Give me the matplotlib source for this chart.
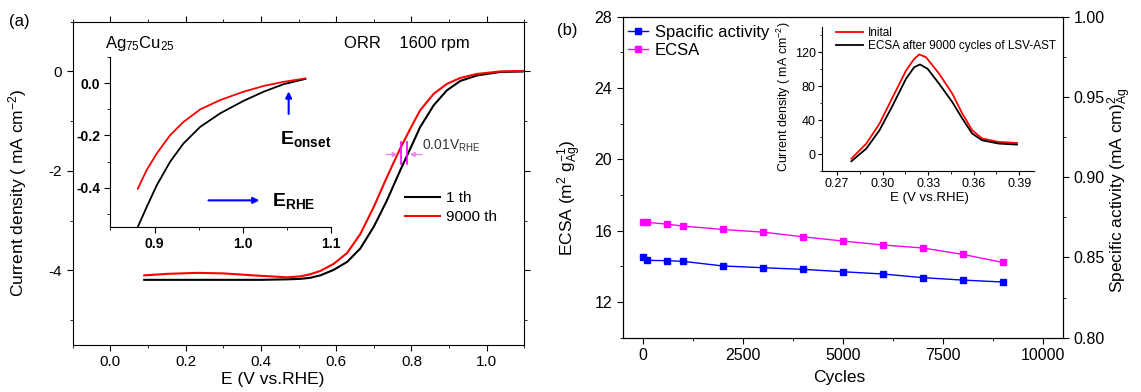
import matplotlib
matplotlib.use('Agg')
import matplotlib.pyplot as plt
from matplotlib.ticker import MultipleLocator

plt.rcParams['font.family'] = ['Liberation Sans', 'DejaVu Sans']
plt.rcParams['mathtext.fontset'] = 'custom'
plt.rcParams['mathtext.rm'] = 'Liberation Sans'
plt.rcParams['mathtext.it'] = 'Liberation Sans:italic'
plt.rcParams['mathtext.bf'] = 'Liberation Sans:bold'
plt.rcParams['mathtext.default'] = 'regular'

# ---- panel (a): LSV curves, 1st and 9000th cycle ----
e_1th = [0.09, 0.2, 0.3, 0.4, 0.47, 0.505, 0.53, 0.558, 0.593, 0.629, 0.664, 0.700, 0.735,
         0.770, 0.797, 0.823, 0.859, 0.894, 0.930, 0.974, 1.036, 1.1]
j_1th = [-4.19, -4.19, -4.19, -4.19, -4.18, -4.17, -4.15, -4.10, -3.99, -3.83, -3.56, -3.12, -2.59,
         -1.99, -1.55, -1.12, -0.68, -0.38, -0.19, -0.08, -0.01, 0.0]
e_9000 = [0.09, 0.15, 0.23, 0.3, 0.38, 0.47, 0.505, 0.53, 0.558, 0.593, 0.629, 0.664, 0.700,
          0.735, 0.770, 0.797, 0.823, 0.859, 0.894, 0.930, 0.974, 1.036, 1.1]
j_9000 = [-4.10, -4.07, -4.05, -4.06, -4.10, -4.14, -4.12, -4.08, -4.01, -3.87, -3.65, -3.27, -2.72,
          -2.12, -1.55, -1.15, -0.78, -0.45, -0.25, -0.13, -0.05, 0.0, 0.01]

# inset (a): onset region zoom
e_in_1th = [0.881, 0.891, 0.9025, 0.9176, 0.9327, 0.9517, 0.9744, 1.0009, 1.0236, 1.0464, 1.071]
j_in_1th = [-0.551, -0.475, -0.391, -0.301, -0.231, -0.167, -0.115, -0.067, -0.032, -0.003, 0.017]
e_in_9000 = [0.881, 0.891, 0.9025, 0.9176, 0.9327, 0.9517, 0.9744, 1.0009, 1.0236, 1.0464, 1.071]
j_in_9000 = [-0.404, -0.333, -0.269, -0.199, -0.148, -0.100, -0.064, -0.032, -0.010, 0.006, 0.019]

# ---- panel (b): stability ----
cycles = [0, 100, 600, 1000, 2000, 3000, 4000, 5000, 6000, 7000, 8000, 9000]
ecsa = [16.47, 16.47, 16.37, 16.26, 16.07, 15.92, 15.66, 15.42, 15.20, 15.03, 14.67, 14.22]
spec_act = [0.8503, 0.8482, 0.8480, 0.8476, 0.8447, 0.8436, 0.8426, 0.8411, 0.8397, 0.8374, 0.8359, 0.8347]

# inset (b): CV stripping peaks
e_cv_init = [0.2794, 0.2892, 0.2979, 0.3066, 0.3154, 0.3208, 0.3241, 0.3285, 0.3372, 0.3459,
             0.3525, 0.359, 0.3656, 0.3765, 0.3885]
j_initial = [-5.1, 12.5, 36.0, 67.2, 98.5, 112.2, 117.3, 114.2, 94.7, 71.2,
             47.7, 28.2, 18.4, 14.5, 13.3]
e_cv_after = [0.2794, 0.2892, 0.2979, 0.3066, 0.3154, 0.3208, 0.3246, 0.3296, 0.3372, 0.3459,
              0.3525, 0.359, 0.3656, 0.3765, 0.3885]
j_after = [-8.2, 6.7, 28.2, 57.5, 88.8, 102.4, 105.6, 100.5, 82.9, 61.3,
           41.9, 24.3, 16.4, 12.6, 11.4]

fig = plt.figure(figsize=(11.41, 3.92), dpi=100)

# ================= (a) =================
ax1 = fig.add_axes([0.0637, 0.1199, 0.3959, 0.8247])
ax1.plot(e_1th, j_1th, color='black', lw=1.5, label='1 th')
ax1.plot(e_9000, j_9000, color='red', lw=1.5, label='9000 th')
ax1.set_xlim(-0.1, 1.1)
ax1.set_ylim(-5.5, 1.0)
ax1.xaxis.set_major_locator(MultipleLocator(0.2))
ax1.xaxis.set_minor_locator(MultipleLocator(0.1))
ax1.yaxis.set_minor_locator(MultipleLocator(1))
ax1.set_yticks([0, -2, -4])
ax1.set_yticklabels(['0', '-2', '-4'])
ax1.tick_params(which='both', direction='out', top=True, right=True, labelsize=11)
ax1.tick_params(which='major', length=4)
ax1.tick_params(which='minor', length=2.5)
ax1.set_xlabel('E (V vs.RHE)', fontsize=12.5)
ax1.xaxis.set_label_coords(0.443, -0.085)
ax1.set_ylabel('Current density ( mA cm$^{-2}$)', fontsize=12.5)
ax1.yaxis.set_label_coords(-0.097, 0.47)

ax1.legend(loc='upper left', bbox_to_anchor=(0.735, 0.475), frameon=False, fontsize=11,
           borderpad=0, borderaxespad=0, handlelength=2.3, handletextpad=0.4, labelspacing=0.3)

ax1.text(-0.015, 0.56, 'Ag$_{75}$Cu$_{25}$', fontsize=12, va='center', ha='left')
ax1.text(0.62, 0.57, 'ORR    1600 rpm', fontsize=12, va='center', ha='left')

# 0.01 V shift marker
ax1.plot([0.771, 0.771], [-1.42, -1.87], color='magenta', lw=1.2)
ax1.plot([0.788, 0.788], [-1.42, -1.87], color='magenta', lw=1.2)
ax1.annotate('', xy=(0.771, -1.67), xytext=(0.726, -1.67),
             arrowprops=dict(arrowstyle='-|>', color='violet', lw=1, mutation_scale=7))
ax1.annotate('', xy=(0.788, -1.67), xytext=(0.835, -1.67),
             arrowprops=dict(arrowstyle='-|>', color='violet', lw=1, mutation_scale=7))
ax1.text(0.828, -1.5, '0.01V$_{RHE}$', fontsize=10, color='#333333', va='center', ha='left')

# inset (a)
ax1i = fig.add_axes([0.0968, 0.4217, 0.1933, 0.4321])
ax1i.plot(e_in_1th, j_in_1th, color='black', lw=1.3)
ax1i.plot(e_in_9000, j_in_9000, color='red', lw=1.3)
ax1i.set_xlim(0.85, 1.1)
ax1i.set_ylim(-0.55, 0.1)
ax1i.spines['top'].set_visible(False)
ax1i.spines['right'].set_visible(False)
ax1i.patch.set_alpha(0)
ax1i.xaxis.set_minor_locator(MultipleLocator(0.05))
ax1i.yaxis.set_minor_locator(MultipleLocator(0.1))
ax1i.set_xticks([0.9, 1.0, 1.1])
ax1i.set_yticks([0.0, -0.2, -0.4])
ax1i.set_xticklabels(['0.9', '1.0', '1.1'], fontweight='bold')
ax1i.set_yticklabels(['0.0', '-0.2', '-0.4'], fontweight='bold')
ax1i.tick_params(which='both', direction='out', labelsize=10)
ax1i.tick_params(which='major', length=4)
ax1i.tick_params(which='minor', length=2.5)
ax1i.annotate('', xy=(1.052, -0.02), xytext=(1.052, -0.128),
              arrowprops=dict(arrowstyle='-|>', color='blue', lw=1.5, mutation_scale=9))
ax1i.text(1.042, -0.215, r'$\mathbf{E_{onset}}$', fontsize=14, va='center', ha='left')
ax1i.annotate('', xy=(1.022, -0.449), xytext=(0.958, -0.449),
              arrowprops=dict(arrowstyle='-|>', color='blue', lw=1.5, mutation_scale=9))
ax1i.text(1.033, -0.452, r'$\mathbf{E_{RHE}}$', fontsize=14, va='center', ha='left')

# ================= (b) =================
ax2 = fig.add_axes([0.5458, 0.1385, 0.3858, 0.8189])
ax2r = ax2.twinx()
l_ecsa, = ax2.plot(cycles, ecsa, color='#ff00ff', marker='s', ms=5, lw=1, label='ECSA')
l_sa, = ax2r.plot(cycles, spec_act, color='#0000ff', marker='s', ms=5, lw=1, label='Spacific activity')
ax2.set_xlim(-500, 10500)
ax2.set_ylim(10, 28)
ax2r.set_ylim(0.80, 1.00)
ax2.set_xticks([0, 2500, 5000, 7500, 10000])
ax2.xaxis.set_minor_locator(MultipleLocator(1250))
ax2.set_yticks([12, 16, 20, 24, 28])
ax2.yaxis.set_minor_locator(MultipleLocator(2))
ax2r.set_yticks([0.80, 0.85, 0.90, 0.95, 1.00])
ax2r.set_yticklabels(['0.80', '0.85', '0.90', '0.95', '1.00'])
ax2r.yaxis.set_minor_locator(MultipleLocator(0.025))
for a in (ax2, ax2r):
    a.tick_params(which='both', direction='out', labelsize=11.5)
    a.tick_params(which='major', length=4)
    a.tick_params(which='minor', length=2.5)
ax2.set_xlabel('Cycles', fontsize=12.5)
ax2.xaxis.set_label_coords(0.4925, -0.1)
ax2.set_ylabel('ECSA (m$^{2}$ g$^{-1}_{Ag}$)', fontsize=12.5)
ax2.yaxis.set_label_coords(-0.088, 0.435)
ax2r.set_ylabel('Specific activity (mA cm)$^{2}_{Ag}$', fontsize=12.5)
ax2r.yaxis.set_label_coords(1.096, 0.46)
ax2.legend([l_sa, l_ecsa], ['Spacific activity', 'ECSA'], loc='upper left',
           bbox_to_anchor=(0.012, 0.975), frameon=False, fontsize=12,
           borderpad=0, borderaxespad=0, handlelength=1.2, handletextpad=0.4, labelspacing=0.2)

# inset (b)
ax2i = fig.add_axes([0.7204, 0.563, 0.1862, 0.369])
ax2i.plot(e_cv_init, j_initial, color='red', lw=1.3, label='Inital')
ax2i.plot(e_cv_after, j_after, color='black', lw=1.3, label='ECSA after 9000 cycles of LSV-AST')
ax2i.set_xlim(0.26, 0.40)
ax2i.set_ylim(-20, 150)
ax2i.spines['top'].set_visible(False)
ax2i.spines['right'].set_visible(False)
ax2i.patch.set_alpha(0)
ax2i.set_xticks([0.27, 0.30, 0.33, 0.36, 0.39])
ax2i.set_xticklabels(['0.27', '0.30', '0.33', '0.36', '0.39'])
ax2i.xaxis.set_minor_locator(MultipleLocator(0.015))
ax2i.set_yticks([0, 40, 80, 120])
ax2i.yaxis.set_minor_locator(MultipleLocator(20))
ax2i.tick_params(which='both', direction='out', labelsize=9, pad=1.5)
ax2i.tick_params(which='major', length=3)
ax2i.tick_params(which='minor', length=1.8)
ax2i.set_xlabel('E (V vs.RHE)', fontsize=9.5)
ax2i.xaxis.set_label_coords(0.505, -0.14)
ax2i.set_ylabel('Current density ( mA cm$^{-2}$)', fontsize=9)
ax2i.yaxis.set_label_coords(-0.135, 0.516)
ax2i.legend(loc='upper left', bbox_to_anchor=(0.065, 1.0), frameon=False, fontsize=8.5,
            borderpad=0, borderaxespad=0, handlelength=2.3, handletextpad=0.4, labelspacing=0.1)

fig.text(0.008, 0.944, '(a)', fontsize=12, va='center', ha='left')
fig.text(0.488, 0.923, '(b)', fontsize=12, va='center', ha='left')

fig.savefig('out.png', dpi=100)
